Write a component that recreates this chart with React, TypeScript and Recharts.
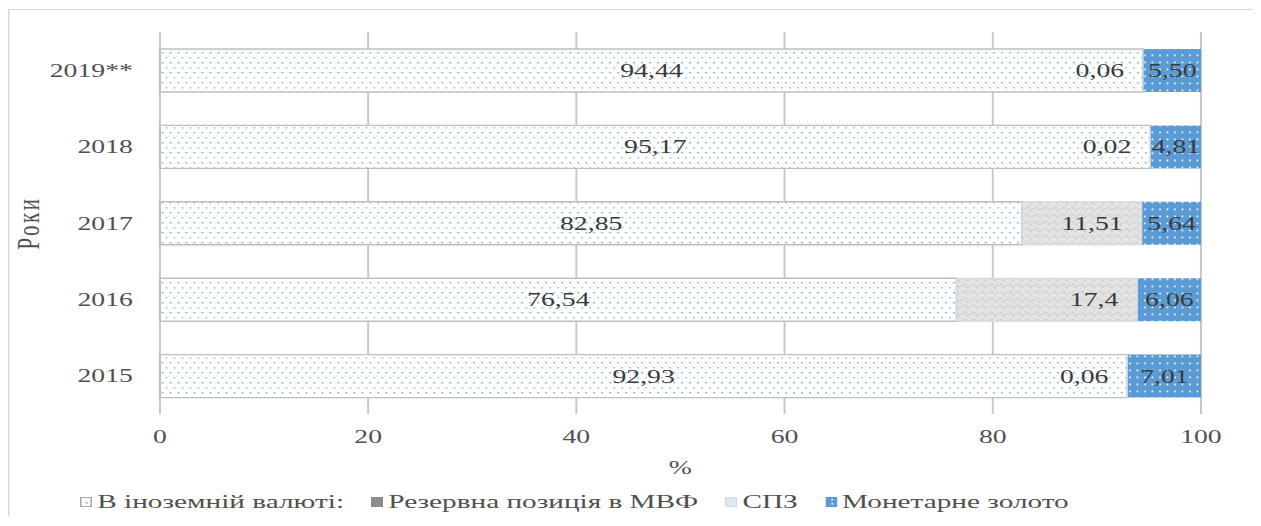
import React from 'react';
import { BarChart, Bar, XAxis, YAxis, CartesianGrid, Legend, LabelList } from 'recharts';

const years = ['2015', '2016', '2017', '2018', '2019**'];
const foreignCurrency = [92.93, 76.54, 82.85, 95.17, 94.44];
const imfReserve = [0, 0, 0, 0, 0];
const sdr = [0.06, 17.4, 11.51, 0.02, 0.06];
const gold = [7.01, 6.06, 5.64, 4.81, 5.5];
const xTicks = [0, 20, 40, 60, 80, 100];

const NAME_FOREIGN = 'В іноземній валюті:';
const NAME_RESERVE = 'Резервна позиція в МВФ';
const NAME_SDR = 'СПЗ';
const NAME_GOLD = 'Монетарне золото';
const legendOrder = ['foreign', 'reserve', 'sdr', 'gold'];

const data = years.map((year, i) => ({
  year,
  foreign: foreignCurrency[i],
  reserve: imfReserve[i],
  sdr: sdr[i],
  gold: gold[i],
}));

const FONT = '"Liberation Serif", "Times New Roman", serif';
const TEXT = '#505050';
const LABEL = '#3a3a3a';

const fmtPlain = (v: any) => String(v).replace('.', ',');
const fmtTwo = (v: any) => Number(v).toFixed(2).replace('.', ',');

function LegendIcon({ kind }: { kind: string }) {
  if (kind === 'foreign') {
    return (
      <svg width={8} height={10} style={{ display: 'block' }}>
        <rect x={0.5} y={0.5} width={7} height={9} fill="#fff" stroke="#a6a6a6" strokeWidth={1} />
        <rect x={4} y={5} width={1} height={1.5} fill="#5b9bd5" />
      </svg>
    );
  }
  if (kind === 'reserve') {
    return (
      <svg width={8} height={10} style={{ display: 'block' }}>
        <rect x={0} y={0} width={8} height={10} fill="#8c8c8c" />
      </svg>
    );
  }
  if (kind === 'sdr') {
    return (
      <svg width={8} height={10} style={{ display: 'block' }}>
        <rect x={0.5} y={0.5} width={7} height={9} fill="#e4e8ec" stroke="#c9dcef" strokeWidth={1} />
      </svg>
    );
  }
  return (
    <svg width={8} height={10} style={{ display: 'block' }}>
      <rect x={0} y={0} width={8} height={10} fill="#5b9bd5" />
      <rect x={4} y={2} width={1} height={1.6} fill="#fff" />
      <rect x={4} y={6} width={1} height={1.6} fill="#fff" />
    </svg>
  );
}

function renderLegend(props: any) {
  const payload = [...(props.payload || [])].sort(
    (a: any, b: any) => legendOrder.indexOf(String(a.dataKey)) - legendOrder.indexOf(String(b.dataKey))
  );
  return (
    <div
      style={{
        display: 'flex',
        alignItems: 'center',
        fontFamily: FONT,
        fontSize: 19.5,
        color: TEXT,
        lineHeight: '20px',
        whiteSpace: 'nowrap',
      }}
    >
      {payload.map((entry: any, i: number) => (
        <div key={i} style={{ display: 'flex', alignItems: 'center', marginRight: 18 }}>
          <LegendIcon kind={String(entry.dataKey)} />
          <span style={{ marginLeft: 3.5 }}>{entry.value}</span>
        </div>
      ))}
    </div>
  );
}

export default function App() {
  return (
    <div
      style={{
        position: 'relative',
        top: 1,
        width: 833,
        height: 508,
        borderTop: '1px solid #d9d9d9',
        borderLeft: '1px solid #d9d9d9',
        borderRight: '1px solid #d9d9d9',
        boxSizing: 'border-box',
        transform: 'scaleX(1.5)',
        transformOrigin: '0 0',
        fontFamily: FONT,
        background: '#fff',
      }}
    >
      <BarChart
        width={831}
        height={507}
        data={data}
        layout="vertical"
        barSize={43}
        margin={{ top: 22, right: 36.7, left: 0, bottom: 43 }}
      >
        <defs>
          <pattern id="dotsBlue" patternUnits="userSpaceOnUse" width={5.33} height={10}>
            <rect x={0} y={0} width={5.33} height={10} fill="#ffffff" />
            <rect x={0.3} y={2} width={0.9} height={1.5} fill="#5b9bd5" />
            <rect x={2.97} y={7} width={0.9} height={1.5} fill="#7fb0de" />
          </pattern>
          <pattern id="goldDots" patternUnits="userSpaceOnUse" width={5} height={7}>
            <rect x={0} y={0} width={5} height={7} fill="#5b9bd5" />
            <rect x={1.5} y={2.5} width={1} height={1.8} fill="#ffffff" />
          </pattern>
          <pattern id="sdrTexture" patternUnits="userSpaceOnUse" width={6} height={7}>
            <rect x={0} y={0} width={6} height={7} fill="#e0e0e0" />
            <rect x={0.5} y={1} width={1.2} height={1.5} fill="#c9c9c9" />
            <rect x={3.2} y={0.5} width={1} height={1.2} fill="#f3f3f3" />
            <rect x={2.2} y={3.5} width={1.3} height={1.6} fill="#cdcdcd" />
            <rect x={4.6} y={4.2} width={1} height={1.4} fill="#f5f5f5" />
            <rect x={0.8} y={5.3} width={1} height={1.2} fill="#f0f0f0" />
            <rect x={4.2} y={2.2} width={0.9} height={1.1} fill="#c4c4c4" />
          </pattern>
        </defs>
        <CartesianGrid horizontal={false} vertical stroke="#c8c8c8" strokeWidth={1.3} />
        <XAxis
          type="number"
          domain={[0, 100]}
          ticks={xTicks}
          interval={0}
          axisLine={false}
          tickLine={false}
          tickMargin={10}
          height={60}
          tick={{ fill: TEXT, fontSize: 18.5, fontFamily: FONT }}
          label={{ value: '%', position: 'insideBottom', offset: 0, fill: TEXT, fontSize: 18.5, fontFamily: FONT }}
        />
        <YAxis
          type="category"
          dataKey="year"
          reversed
          width={100.3}
          interval={0}
          axisLine={false}
          tickLine={false}
          tickMargin={12}
          tick={{ fill: TEXT, fontSize: 18.5, fontFamily: FONT }}
          label={{
            value: 'Роки',
            angle: -90,
            position: 'insideLeft',
            offset: 12,
            fill: TEXT,
            fontSize: 21,
            fontFamily: FONT,
            style: { textAnchor: 'middle', letterSpacing: 2.5 },
          }}
        />
        <Legend
          content={renderLegend}
          layout="horizontal"
          verticalAlign="middle"
          align="center"
          wrapperStyle={{ top: 482, left: 47, width: 780 }}
        />
        <Bar dataKey="foreign" name={NAME_FOREIGN} stackId="a" fill="url(#dotsBlue)" stroke="#bfbfbf" strokeWidth={1.4} isAnimationActive={false}>
          <LabelList dataKey="foreign" position="center" formatter={fmtPlain} fill={LABEL} fontSize={18.5} fontFamily={FONT} />
        </Bar>
        <Bar dataKey="reserve" name={NAME_RESERVE} stackId="a" fill="#8c8c8c" isAnimationActive={false} />
        <Bar dataKey="sdr" name={NAME_SDR} stackId="a" fill="url(#sdrTexture)" stroke="#c9dcef" strokeWidth={1} isAnimationActive={false}>
          <LabelList dataKey="sdr" position="insideRight" offset={13} formatter={fmtPlain} fill={LABEL} fontSize={18.5} fontFamily={FONT} />
        </Bar>
        <Bar dataKey="gold" name={NAME_GOLD} stackId="a" fill="url(#goldDots)" isAnimationActive={false}>
          <LabelList dataKey="gold" position="center" formatter={fmtTwo} fill={LABEL} fontSize={18.5} fontFamily={FONT} />
        </Bar>
      </BarChart>
    </div>
  );
}
